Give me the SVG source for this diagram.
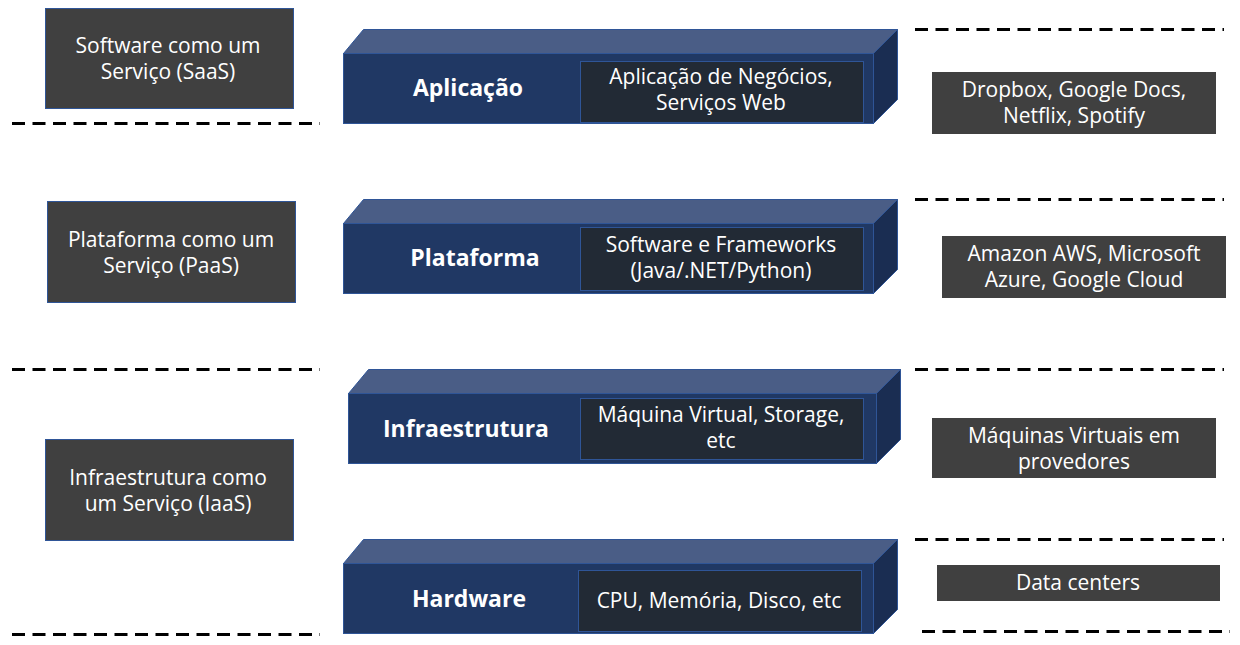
<svg xmlns="http://www.w3.org/2000/svg" width="1240" height="645" viewBox="0 0 1240 645">
<style>
.bg{fill:#ffffff}
.gray{fill:#404040}
.lbox{fill:#404040;stroke:#2F5597;stroke-width:1}
.front{fill:#203864;stroke:#2F5597;stroke-width:1}
.top{fill:#4A5D86;stroke:#2F5597;stroke-width:1}
.side{fill:#1A2D52;stroke:#2F5597;stroke-width:1}
.inner{fill:#222A35;stroke:#2F5597;stroke-width:1}
.t{font-family:"Open Sans","Noto Sans",sans-serif;font-size:21px;fill:#ffffff;text-anchor:middle}
.b{font-family:"Open Sans","Noto Sans",sans-serif;font-size:23px;font-weight:bold;fill:#ffffff;text-anchor:middle}
.dash{stroke:#000000;stroke-width:3;stroke-dasharray:13 7.5;fill:none}
</style>
<rect class="bg" x="0" y="0" width="1240" height="645"/>
<g id="connectors">
<line class="dash" x1="12" y1="123.5" x2="320" y2="123.5"/>
<line class="dash" x1="12" y1="369.5" x2="320" y2="369.5"/>
<line class="dash" x1="12" y1="634.5" x2="320" y2="634.5"/>
<line class="dash" x1="915" y1="29.5" x2="1224" y2="29.5"/>
<line class="dash" x1="915" y1="199.5" x2="1224" y2="199.5"/>
<line class="dash" x1="915" y1="369.5" x2="1224" y2="369.5"/>
<line class="dash" x1="915" y1="539.5" x2="1224" y2="539.5"/>
<line class="dash" x1="922" y1="631.5" x2="1230" y2="631.5"/>
</g>
<g id="saas">
<rect class="lbox" x="45.5" y="8.5" width="248" height="100"/>
<text class="t" x="168" y="53">Software como um</text>
<text class="t" x="168" y="79">Serviço (SaaS)</text>
</g>
<g id="paas">
<rect class="lbox" x="47.5" y="201.5" width="248" height="101"/>
<text class="t" x="171" y="247">Plataforma como um</text>
<text class="t" x="171" y="273">Serviço (PaaS)</text>
</g>
<g id="iaas">
<rect class="lbox" x="45.5" y="439.5" width="248" height="101"/>
<text class="t" x="168" y="485">Infraestrutura como</text>
<text class="t" x="168" y="511">um Serviço (IaaS)</text>
</g>
<g id="aplicacao">
<polygon class="top" points="343.5,53.5 363.5,29.5 897.5,29.5 873.5,53.5"/>
<polygon class="side" points="873.5,53.5 897.5,29.5 897.5,99.5 873.5,123.5"/>
<rect class="front" x="343.5" y="53.5" width="530" height="70"/>
<rect class="inner" x="580.5" y="61.5" width="283" height="61"/>
<text class="b" x="468" y="96">Aplicação</text>
<text class="t" x="721" y="84">Aplicação de Negócios,</text>
<text class="t" x="721" y="110">Serviços Web</text>
</g>
<g id="plataforma">
<polygon class="top" points="343.5,223.5 363.5,199.5 897.5,199.5 873.5,223.5"/>
<polygon class="side" points="873.5,223.5 897.5,199.5 897.5,269.5 873.5,293.5"/>
<rect class="front" x="343.5" y="223.5" width="530" height="70"/>
<rect class="inner" x="580.5" y="227.5" width="283" height="63"/>
<text class="b" x="475" y="266">Plataforma</text>
<text class="t" x="721" y="252">Software e Frameworks</text>
<text class="t" x="721" y="278">(Java/.NET/Python)</text>
</g>
<g id="infraestrutura">
<polygon class="top" points="348.5,393.5 368.5,369.5 900.5,369.5 876.5,393.5"/>
<polygon class="side" points="876.5,393.5 900.5,369.5 900.5,439.5 876.5,463.5"/>
<rect class="front" x="348.5" y="393.5" width="528" height="70"/>
<rect class="inner" x="580.5" y="398.5" width="283" height="61"/>
<text class="b" x="466" y="437">Infraestrutura</text>
<text class="t" x="721" y="422">Máquina Virtual, Storage,</text>
<text class="t" x="721" y="448">etc</text>
</g>
<g id="hardware">
<polygon class="top" points="343.5,563.5 363.5,539.5 897.5,539.5 873.5,563.5"/>
<polygon class="side" points="873.5,563.5 897.5,539.5 897.5,609.5 873.5,633.5"/>
<rect class="front" x="343.5" y="563.5" width="530" height="70"/>
<rect class="inner" x="578.5" y="570.5" width="283" height="61"/>
<text class="b" x="469" y="607">Hardware</text>
<text class="t" x="719" y="608">CPU, Memória, Disco, etc</text>
</g>
<g id="dropbox">
<rect class="gray" x="932" y="72" width="284" height="62"/>
<text class="t" x="1074" y="97">Dropbox, Google Docs,</text>
<text class="t" x="1074" y="123">Netflix, Spotify</text>
</g>
<g id="amazon">
<rect class="gray" x="942" y="236" width="284" height="62"/>
<text class="t" x="1084" y="261">Amazon AWS, Microsoft</text>
<text class="t" x="1084" y="287">Azure, Google Cloud</text>
</g>
<g id="maquinas">
<rect class="gray" x="932" y="418" width="284" height="60"/>
<text class="t" x="1074" y="443">Máquinas Virtuais em</text>
<text class="t" x="1074" y="469">provedores</text>
</g>
<g id="datacenters">
<rect class="gray" x="937" y="565" width="283" height="36"/>
<text class="t" x="1078" y="590">Data centers</text>
</g>
</svg>
